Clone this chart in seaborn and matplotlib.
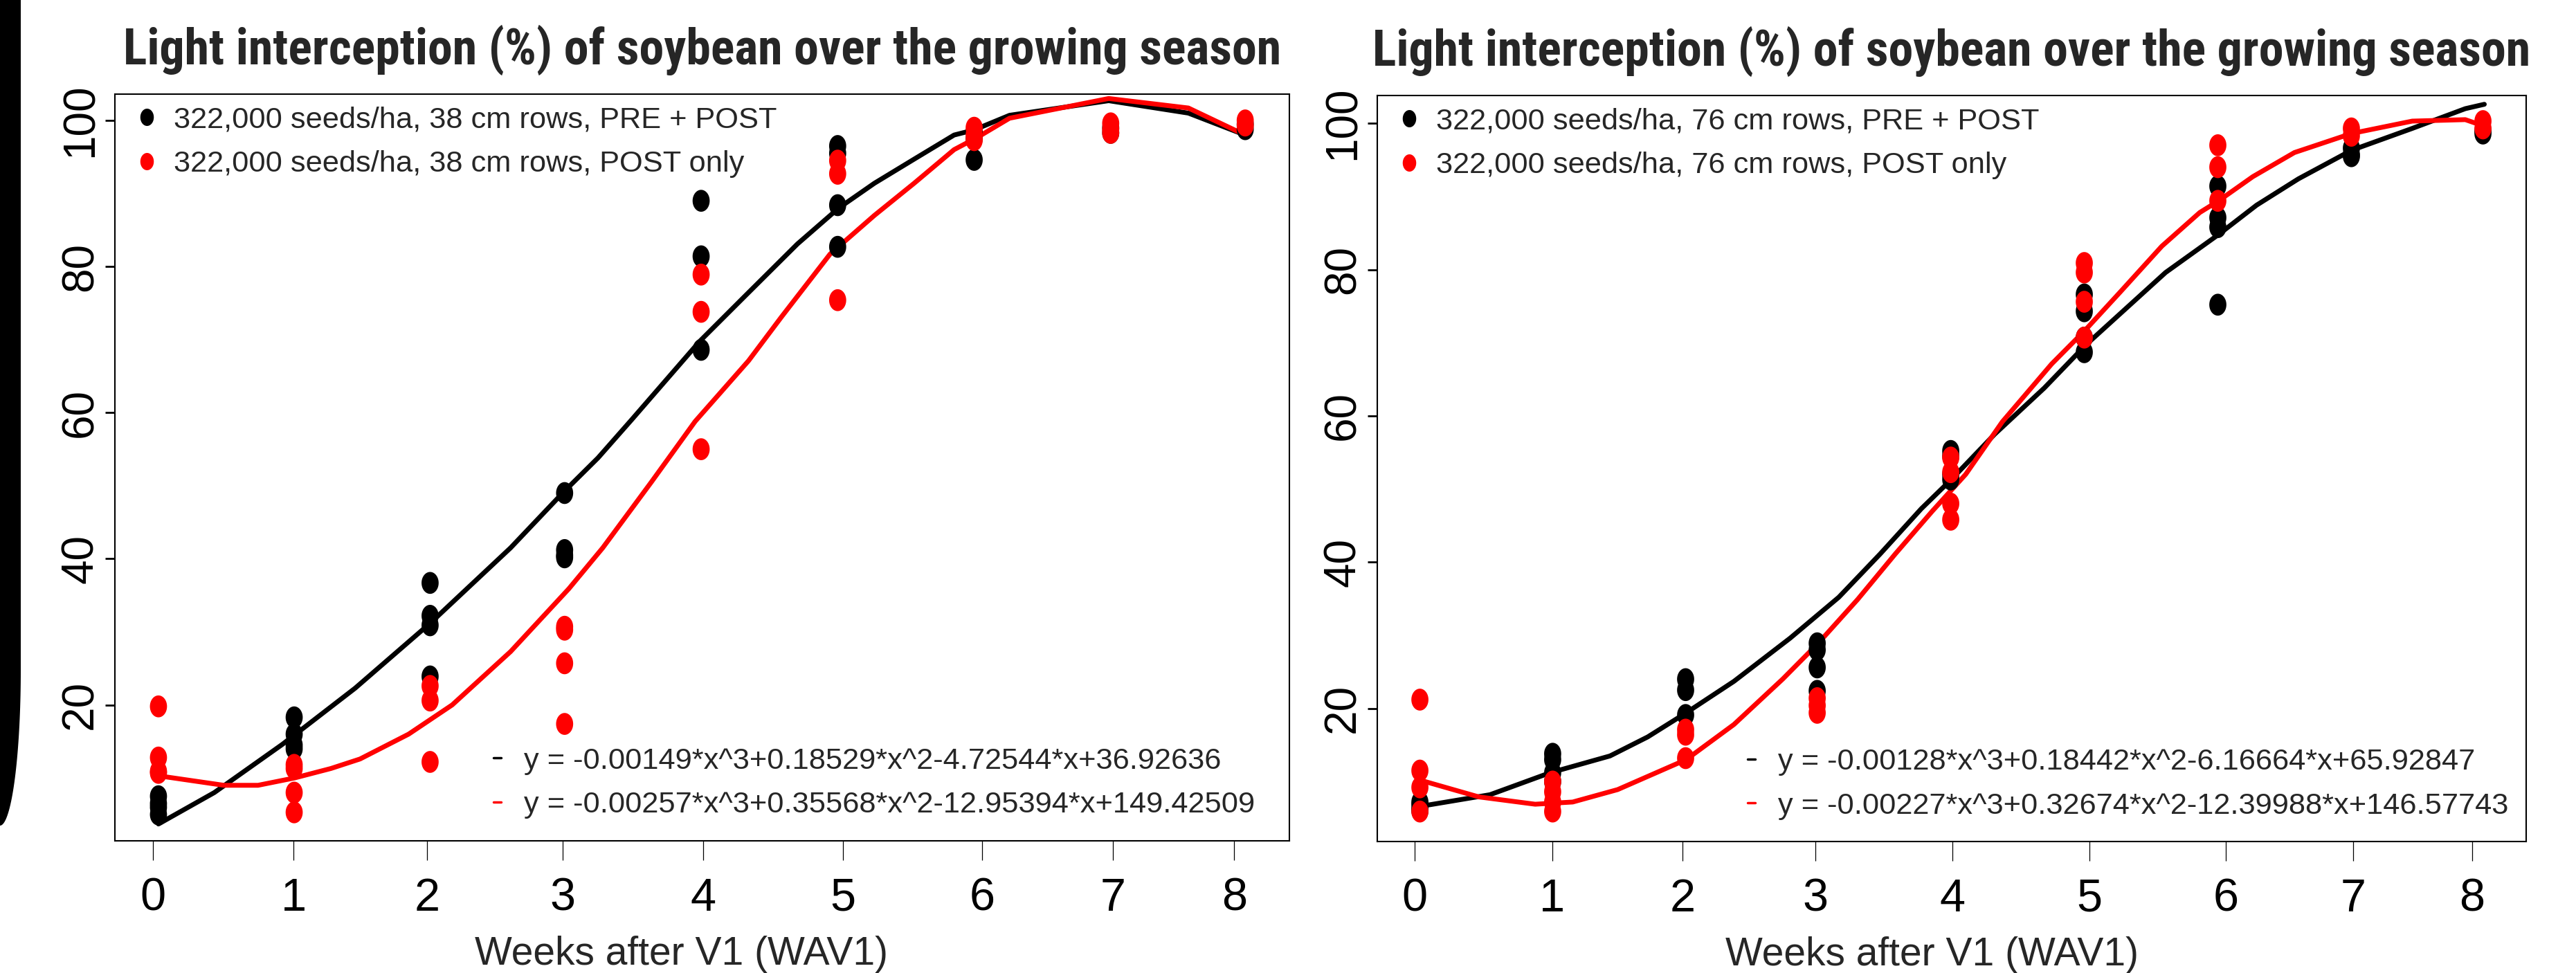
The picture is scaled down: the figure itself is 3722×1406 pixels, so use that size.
import os
import numpy as np
import pandas as pd
import matplotlib
matplotlib.use("Agg")
import matplotlib.pyplot as plt
import seaborn as sns
from matplotlib.path import Path
from matplotlib.lines import Line2D
from matplotlib.patches import Polygon
from matplotlib import font_manager as fm

# ---------------- data ----------------
TITLE = "Light interception (%) of soybean over the growing season"
XLABEL = "Weeks after V1 (WAV1)"
TICK_DAYS = [0, 7, 13.65, 20.4, 27.4, 34.35, 41.3, 47.8, 53.85]
TICK_LABELS = ["0", "1", "2", "3", "4", "5", "6", "7", "8"]
Y_TICKS = [20, 40, 60, 80, 100]
WEEK_DAYS = [0.27, 7.03, 13.8, 20.5, 27.3, 34.1, 40.9, 47.7, 54.4]
TREATMENTS = ["PRE + POST", "POST only"]
COLORS = ["black", "red"]

# panel 1 : 38 cm rows
p1_labels = ["322,000 seeds/ha, 38 cm rows, PRE + POST",
             "322,000 seeds/ha, 38 cm rows, POST only"]
p1_eqs = ["y = -0.00149*x^3+0.18529*x^2-4.72544*x+36.92636",
          "y = -0.00257*x^3+0.35568*x^2-12.95394*x+149.42509"]
p1_black_pts = [[7.5, 6.5, 6.0, 5.0], [18.3, 16.0, 14.5, 14.0], [36.7, 32.2, 30.9, 23.9],
                [49.0, 41.2, 40.5, 40.2], [89.0, 81.4, 68.6], [96.5, 95.5, 88.4, 82.7],
                [98.5, 97.5, 94.6], [99.0, 98.3], [99.5, 98.8]]
p1_red_pts = [[19.8, 12.8, 10.7, 10.9], [11.8, 11.3, 8.0, 5.3], [22.6, 20.6, 12.2],
              [30.7, 30.3, 25.7, 17.4], [78.9, 73.8, 55.0], [94.5, 92.7, 75.4],
              [99.0, 98.0, 97.3], [99.6, 98.8, 98.3], [100.0, 99.3]]
p1_black_curve_x = [0.27, 3.05, 6.44, 10.07, 13.81, 17.81, 20.47, 22.16, 23.86, 27.24, 29.5,
                    32.1, 34.15, 35.93, 37.91, 39.9, 40.9, 42.66, 47.6, 51.57, 54.4]
p1_black_curve_y = [3.7, 8.0, 14.6, 22.3, 31.2, 41.5, 49.2, 53.8, 59.1, 69.8, 76.0,
                    83.1, 88.0, 91.4, 94.7, 98.0, 98.7, 100.7, 102.7, 101.0, 98.0]
p1_red_curve_x = [0.27, 3.53, 5.23, 7.04, 8.86, 10.31, 12.73, 14.9, 17.81, 20.71, 22.4, 24.82,
                  27.0, 29.66, 31.3, 33.72, 35.93, 37.91, 39.9, 41.07, 42.66, 47.6, 51.57, 54.4]
p1_red_curve_y = [10.3, 9.0, 9.0, 10.0, 11.3, 12.6, 16.0, 20.0, 27.3, 35.9, 41.5, 50.5,
                  58.8, 67.1, 73.1, 81.7, 87.0, 91.4, 96.0, 97.7, 100.3, 103.0, 101.7, 98.0]
p1_ylim = (1.4, 103.6)

# panel 2 : 76 cm rows
p2_labels = ["322,000 seeds/ha, 76 cm rows, PRE + POST",
             "322,000 seeds/ha, 76 cm rows, POST only"]
p2_eqs = ["y = -0.00128*x^3+0.18442*x^2-6.16664*x+65.92847",
          "y = -0.00227*x^3+0.32674*x^2-12.39988*x+146.57743"]
p2_black_pts = [[7.2, 6.8, 6.2, 6.0], [13.8, 13.0, 11.2, 10.0], [24.0, 22.5, 19.1],
                [28.9, 28.0, 25.6, 22.4], [55.2, 54.5, 52.0, 51.3], [76.6, 74.3, 70.7, 68.7],
                [91.4, 87.1, 85.8, 75.2], [96.6, 95.7, 95.5], [98.6, 99.0]]
p2_red_pts = [[21.2, 11.5, 9.2, 5.9], [10.0, 8.6, 7.2, 5.9], [17.1, 16.4, 13.2],
              [21.4, 20.4, 19.4], [54.3, 52.3, 48.0, 45.8], [80.9, 79.6, 75.6, 70.7],
              [97.0, 94.0, 89.4], [99.3, 98.3], [100.3, 99.3]]
p2_black_curve_x = [0.27, 3.84, 6.9, 9.95, 11.87, 13.83, 16.26, 19.12, 21.6, 23.7, 25.8, 27.33,
                    29.54, 32.06, 34.18, 38.24, 40.94, 42.87, 45.0, 47.7, 50.8, 53.5, 54.47]
p2_black_curve_y = [6.6, 8.2, 11.2, 13.5, 16.1, 19.4, 23.7, 29.6, 35.2, 41.1, 47.3, 51.3,
                    57.5, 63.8, 69.7, 79.6, 84.8, 88.8, 92.4, 96.3, 99.3, 102.0, 102.6]
p2_red_curve_x = [0.27, 3.27, 6.14, 8.05, 10.34, 13.83, 16.26, 18.74, 20.55, 22.56, 24.47, 26.37,
                  28.06, 29.93, 32.44, 34.14, 35.92, 38.05, 39.98, 40.94, 42.68, 44.8, 47.7,
                  50.8, 53.5, 54.47]
p2_red_curve_y = [10.2, 7.9, 6.9, 7.2, 8.9, 13.0, 17.8, 24.0, 28.9, 34.9, 41.1, 47.0,
                  52.0, 59.2, 67.1, 71.7, 76.9, 83.2, 87.8, 89.4, 92.7, 96.0, 98.6,
                  100.3, 100.5, 99.6]
p2_ylim = (1.8, 103.8)
XLIM = (-1.9, 56.6)

# ---------------- style ----------------
sns.set_style("white")
names = {f.name for f in fm.fontManager.ttflist}
BASE = "Liberation Sans" if "Liberation Sans" in names else "DejaVu Sans"
plt.rcParams["font.family"] = [BASE, "DejaVu Sans"]


def find_condensed_bold():
    files = [f.fname for f in fm.fontManager.ttflist]
    prefs = [("liberationsansnarrow", "bold"), ("arialnarrow", "bold"), ("arial narrow", "bold"),
             ("robotocondensed", "bold"), ("roboto_condensed", "bold"),
             ("dejavusanscondensed", "bold"), ("notosans", "condensedbold"),
             ("opensans", "condensedbold"), ("opensanscondensed", "bold"),
             ("lato", "condensed")]
    for a, b in prefs:
        for fn in files:
            base = os.path.basename(fn).lower().replace(" ", "")
            if a.replace(" ", "") in base and b in base and "italic" not in base \
                    and "oblique" not in base and "semi" not in base and "extra" not in base:
                return fn
    return None


COND = find_condensed_bold()

W, H = 3723, 1406
fig = plt.figure(figsize=(W / 100, H / 100), dpi=100)
fig.patch.set_facecolor("white")

# ellipse marker (the reference dots are taller than wide)
t = np.linspace(0, 2 * np.pi, 60)
ELLIPSE = Path(np.column_stack([0.39 * np.cos(t), 0.5 * np.sin(t)]), closed=True)

panels = [
    dict(rect=(166, 136, 1863, 1215), labels=p1_labels, eqs=p1_eqs,
         bpts=p1_black_pts, rpts=p1_red_pts,
         bcx=p1_black_curve_x, bcy=p1_black_curve_y,
         rcx=p1_red_curve_x, rcy=p1_red_curve_y, ylim=p1_ylim),
    dict(rect=(1990, 138, 3650, 1216), labels=p2_labels, eqs=p2_eqs,
         bpts=p2_black_pts, rpts=p2_red_pts,
         bcx=p2_black_curve_x, bcy=p2_black_curve_y,
         rcx=p2_red_curve_x, rcy=p2_red_curve_y, ylim=p2_ylim),
]

LEG_FS = 31.2
titles = []
for P in panels:
    x0, y0, x1, y1 = P["rect"]
    ax = fig.add_axes([x0 / W, 1 - y1 / H, (x1 - x0) / W, (y1 - y0) / H])

    rows = []
    for trt, pts in zip(TREATMENTS, [P["bpts"], P["rpts"]]):
        for d, vals in zip(WEEK_DAYS, pts):
            for v in vals:
                rows.append((trt, d, v))
    df = pd.DataFrame(rows, columns=["trt", "day", "li"])

    curves = []
    for trt, cx, cy in zip(TREATMENTS, [P["bcx"], P["rcx"]], [P["bcy"], P["rcy"]]):
        curves.append(pd.DataFrame({"trt": trt, "day": cx, "li": cy}))

    for cdf, col in zip(curves, COLORS):
        sns.lineplot(data=cdf, x="day", y="li", color=col, lw=5.0, sort=False,
                     estimator=None, ax=ax, legend=False, zorder=2)

    sns.scatterplot(data=df, x="day", y="li", hue="trt", hue_order=TREATMENTS,
                    palette=dict(zip(TREATMENTS, COLORS)), marker=ELLIPSE, s=520,
                    linewidth=0, edgecolor="none", ax=ax, legend=False, zorder=3)

    ax.set_xlim(*XLIM)
    ax.set_ylim(*P["ylim"])
    ax.set_xticks(TICK_DAYS)
    ax.set_xticklabels(TICK_LABELS)
    ax.set_yticks(Y_TICKS)
    ax.set_yticklabels([str(v) for v in Y_TICKS])
    ax.set_ylabel("")
    ax.set_xlabel(XLABEL, fontsize=41)
    ax.xaxis.set_label_coords((985 - 166) / 1697, -0.127)

    ax.tick_params(axis="x", bottom=True, length=20, width=0.9, pad=18,
                   labelsize=48, color="black", labelcolor="black")
    ax.tick_params(axis="y", left=True, length=10, width=2.0, pad=4,
                   labelsize=46, color="black", labelcolor="black")
    for lab in ax.get_yticklabels():
        lab.set_rotation(90)
        lab.set_va("center")
        lab.set_ha("right")
    for sp in ax.spines.values():
        sp.set_visible(True)
        sp.set_color("black")
        sp.set_linewidth(1.5)

    if COND:
        ttl = ax.set_title(TITLE, fontproperties=fm.FontProperties(fname=COND, size=50), pad=31)
    else:
        ttl = ax.set_title(TITLE, fontsize=43, fontweight="bold", pad=31)
    titles.append(ttl)

    # point legend
    h1 = [Line2D([], [], ls="none", marker=ELLIPSE, markersize=18, color=c,
                 markeredgewidth=0) for c in COLORS]
    leg1 = ax.legend(h1, P["labels"], loc="upper left", bbox_to_anchor=(0.017, 0.984),
                     frameon=False, fontsize=LEG_FS, handlelength=0.8, handletextpad=0.5,
                     labelspacing=0.55, borderpad=0, borderaxespad=0)
    ax.add_artist(leg1)
    # equation legend
    h2 = [Line2D([], [], color=c, lw=2.5) for c in COLORS]
    ax.legend(h2, P["eqs"], loc="upper left", bbox_to_anchor=(0.3222, 0.1255),
              frameon=False, fontsize=LEG_FS, handlelength=0.25, handletextpad=0.76,
              labelspacing=0.55, borderpad=0, borderaxespad=0)

# fit the title width to the reference (about 1674 px)
renderer = fig.canvas.get_renderer()
for ttl in titles:
    wpx = ttl.get_window_extent(renderer).width
    ttl.set_fontsize(ttl.get_fontsize() * 1674.0 / wpx)

# dark rounded band at the left edge of the slide
tt = np.linspace(0, np.pi / 2, 40)
bx = np.concatenate([[0, 30], 30 * np.cos(tt), [0]])
by = np.concatenate([[0, 0], 968 + 225 * np.sin(tt), [0]])
fig.patches.append(Polygon(np.column_stack([bx / W, 1 - by / H]), closed=True,
                           transform=fig.transFigure, facecolor="black",
                           edgecolor="none", zorder=0))

fig.savefig("out.png", dpi=100)
